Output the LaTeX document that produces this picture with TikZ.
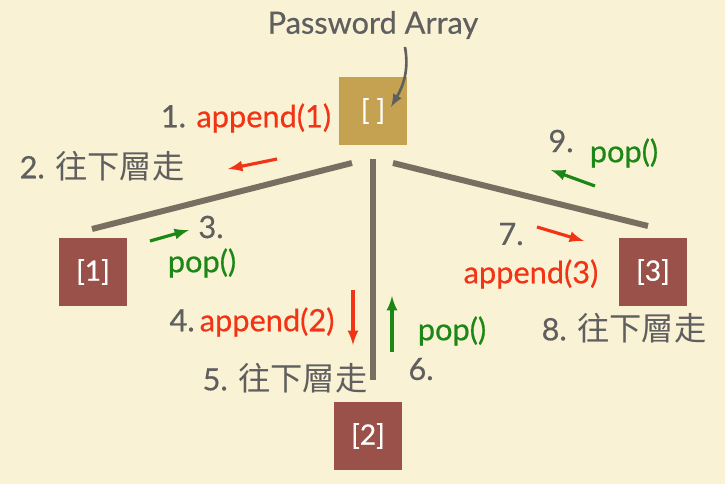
\documentclass[tikz,border=0pt]{standalone}
\usepackage{fontspec}
\setmainfont{Lato}[FakeBold=0.5]
\newfontfamily\cjk{Noto Sans CJK TC}[Scale=1.05]
\usetikzlibrary{positioning}
\definecolor{paper}{RGB}{249,242,212}
\definecolor{gold}{RGB}{197,162,82}
\definecolor{brick}{RGB}{153,81,73}
\definecolor{ink}{RGB}{95,95,95}
\definecolor{branch}{RGB}{120,111,96}
\definecolor{redtxt}{RGB}{242,52,22}
\definecolor{greentxt}{RGB}{28,135,22}
\tikzset{
  box/.style={fill=brick, minimum size=1.37cm, inner sep=0pt, text=white, font=\fontsize{16}{18}\selectfont},
  lab/.style={text=ink, inner sep=0pt, font=\fontsize{17.5}{20}\selectfont},
  limb/.style={branch, line width=3.4pt},
  redarr/.style={redtxt, line width=1.8pt, ->, >=latex},
  greenarr/.style={greentxt, line width=1.8pt, ->, >=latex}
}
\begin{document}
\begin{tikzpicture}[x=0.02cm, y=-0.02cm]
\fill [paper] (0,0) rectangle (725,484);
\useasboundingbox (0,0) rectangle (725,484);
\node [box, fill=gold] (root) at (373,111) {[ ]};
\node [box] (n1) at (93,272) {[1]};
\node [box] (n2) at (368,436) {[2]};
\node [box] (n3) at (653,272) {[3]};
\node [lab] (pw) at (373,25) {Password Array};
\coordinate (bL0) at (352,163);
\coordinate (bL1) at (92,229);
\coordinate (bM0) at (373,159);
\coordinate (bM1) at (373,380);
\coordinate (bR0) at (393,163);
\coordinate (bR1) at (648,226);
\draw [limb] (bL0) -- (bL1);
\draw [limb] (bM0) -- (bM1);
\draw [limb] (bR0) -- (bR1);
\coordinate (pw0) at (405,47);
\coordinate (pw1) at (391,107);
\draw [ink, line width=1.5pt, ->, >=latex] (pw0) to[out=-80, in=60] (pw1);
\node [lab] (s1) at (246,118) {1. \textcolor{redtxt}{append(1)}};
\node [lab] (s2) at (102,166) {2. {\cjk 往下層走}};
\node [lab] (s3) at (211,227) {3.};
\node [lab, text=greentxt] (s3b) at (202,263) {pop()};
\node [lab] (s4) at (252,322) {4.\,\textcolor{redtxt}{append(2)}};
\node [lab] (s5) at (285,378) {5. {\cjk 往下層走}};
\node [lab, text=greentxt] (s6b) at (452,331) {pop()};
\node [lab] (s6) at (421,369) {6.};
\node [lab] (s7) at (511,234) {7.};
\node [lab, text=redtxt] (s7b) at (531,274) {append(3)};
\node [lab] (s8) at (624,328) {8. {\cjk 往下層走}};
\node [lab] (s9) at (561,141) {9.};
\node [lab, text=greentxt] (s9b) at (624,153) {pop()};
\coordinate (a1s) at (277,159);
\coordinate (a1e) at (228,169);
\coordinate (a3s) at (150,241);
\coordinate (a3e) at (189,230);
\coordinate (a4s) at (353,290);
\coordinate (a4e) at (353,345);
\coordinate (a6s) at (392,352);
\coordinate (a6e) at (392,296);
\coordinate (a7s) at (537,227);
\coordinate (a7e) at (584,241);
\coordinate (a9s) at (595,186);
\coordinate (a9e) at (551,170);
\draw [redarr] (a1s) -- (a1e);
\draw [greenarr] (a3s) -- (a3e);
\draw [redarr] (a4s) -- (a4e);
\draw [greenarr] (a6s) -- (a6e);
\draw [redarr] (a7s) -- (a7e);
\draw [greenarr] (a9s) -- (a9e);
\end{tikzpicture}
\end{document}
